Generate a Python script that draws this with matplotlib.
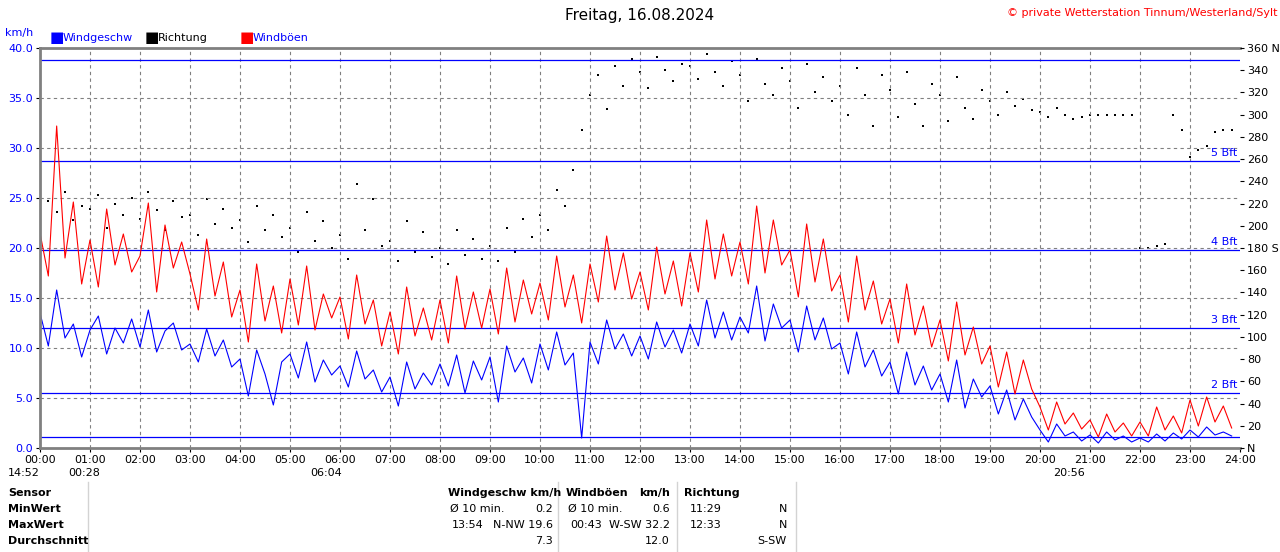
import numpy as np
import matplotlib.pyplot as plt

# 10-minute samples, 00:00 .. 23:50
wind = [
    13.5, 10.2, 15.8, 11.0, 12.4, 9.1,
    11.8, 13.2, 9.4, 12.0, 10.5, 12.9,
    10.1, 13.8, 9.6, 11.7, 12.5, 9.8,
    10.4, 8.6, 11.9, 9.2, 10.8, 8.1,
    8.9, 5.2, 9.8, 7.4, 4.3, 8.6,
    9.4, 7.0, 10.6, 6.6, 8.8, 7.3,
    8.2, 6.1, 9.7, 6.9, 7.8, 5.6,
    7.1, 4.2, 8.6, 5.9, 7.5, 6.3,
    8.4, 6.2, 9.3, 5.5, 8.7, 6.8,
    9.1, 4.6, 10.2, 7.6, 9.0, 6.5,
    10.4, 7.8, 11.6, 8.3, 9.5, 1.0,
    10.6, 8.4, 12.8, 9.9, 11.4, 9.2,
    11.2, 8.9, 12.6, 10.1, 11.8, 9.5,
    12.4, 10.2, 14.8, 11.0, 13.6, 10.8,
    13.1, 11.5, 16.2, 10.7, 14.4, 12.0,
    12.8, 9.6, 14.2, 10.8, 13.0, 9.9,
    10.5, 7.4, 11.6, 8.1, 9.8, 7.2,
    8.6, 5.4, 9.6, 6.3, 8.2, 5.8,
    7.4, 4.6, 8.8, 4.0, 6.9, 5.1,
    6.2, 3.4, 5.8, 2.8, 4.9, 3.1,
    1.8, 0.6, 2.4, 1.2, 1.6, 0.7,
    1.3, 0.5, 1.6, 0.8, 1.2, 0.6,
    1.0, 0.6, 1.4, 0.7, 1.5, 0.9,
    1.8, 1.1, 2.1, 1.3, 1.6, 1.2,
]
gust = [
    21.5, 17.2, 32.2, 19.0, 24.6, 16.4,
    20.8, 16.1, 23.9, 18.3, 21.4, 17.6,
    19.2, 24.5, 15.6, 22.3, 18.0, 20.6,
    17.4, 13.8, 20.9, 15.2, 18.6, 13.1,
    15.8, 10.6, 18.4, 12.7, 16.2, 11.5,
    16.9, 12.3, 18.2, 11.8, 15.4, 13.0,
    15.1, 10.9, 17.3, 12.4, 14.8, 10.2,
    13.6, 9.4, 16.1, 11.2, 14.0, 10.8,
    14.8, 10.5, 17.2, 11.9, 15.6, 12.0,
    15.9, 11.4, 18.0, 12.6, 16.8, 13.4,
    16.5, 12.8, 19.2, 14.1, 17.3, 12.5,
    18.4, 14.6, 21.2, 15.8, 19.5, 14.9,
    17.6, 13.8, 20.1, 15.4, 18.7, 14.2,
    19.5, 15.6, 22.8, 16.9, 21.4, 17.2,
    20.6, 16.4, 24.2, 17.5, 22.8, 18.3,
    19.8, 15.1, 22.4, 16.6, 20.9, 15.7,
    17.3, 12.6, 19.2, 13.8, 16.7, 12.4,
    14.9, 10.5, 16.4, 11.3, 14.2, 10.1,
    12.8, 8.7, 14.6, 9.3, 12.1, 8.4,
    10.2, 6.1, 9.6, 5.4, 8.8, 5.9,
    4.1, 1.8, 4.6, 2.4, 3.5, 1.9,
    2.8, 1.1, 3.4, 1.6, 2.5, 1.2,
    2.6, 1.2, 4.1, 1.8, 3.2, 1.5,
    4.8, 2.2, 5.1, 2.6, 4.2, 2.0,
]
direction = [
    200, 222, 212, 230, 205, 218,
    215, 228, 198, 220, 210, 225,
    206, 230, 214, 196, 222, 208,
    210, 192, 224, 202, 215, 198,
    205, 185, 218, 196, 210, 190,
    198, 176, 212, 186, 204, 180,
    192, 170, 238, 196, 224, 182,
    186, 168, 204, 176, 194, 172,
    180, 166, 196, 174, 188, 170,
    182, 168, 198, 176, 206, 190,
    210, 196, 232, 218, 250, 286,
    318, 336, 305, 344, 326, 350,
    338, 324, 352, 340, 330, 346,
    344, 332, 355, 338, 326, 348,
    336, 312, 350, 328, 318, 342,
    330, 306, 346, 320, 334, 312,
    326, 300, 342, 318, 290, 336,
    322, 298, 338, 310, 290, 328,
    318, 294, 334, 306, 296, 322,
    312, 300, 320, 308, 314, 304,
    302, 298, 306, 300, 296, 298,
    300, 300, 300, 300, 300, 300,
    180, 180, 182, 184, 300, 286,
    262, 268, 272, 284, 286, 286,
]
hours = np.arange(len(wind)) / 6
bft_lines = [1.1, 5.5, 12.0, 19.8, 28.7, 38.8]
bft_labels = ['', '2 Bft', '3 Bft', '4 Bft', '5 Bft', '']

fig = plt.figure(figsize=(12.8, 5.52), dpi=100)
ax = fig.add_axes([40 / 1280, 104 / 552, 1200 / 1280, 400 / 552])
ax.set_xlim(0, 24)
ax.set_ylim(0, 40)
for h in range(1, 24):
    ax.axvline(h, color='gray', ls=(0, (3, 3)), lw=0.8)
for v in range(5, 40, 5):
    ax.axhline(v, color='gray', ls=(0, (3, 3)), lw=0.8)
for v, lab in zip(bft_lines, bft_labels):
    ax.axhline(v, color='blue', lw=0.9)
    if lab:
        ax.text(23.95, v + 0.3, lab, color='blue', fontsize=8, ha='right', va='bottom')

ax.plot(hours, gust, color='red', lw=0.8)
ax.plot(hours, wind, color='blue', lw=0.8)
ax.scatter(hours, np.array(direction) / 9, s=3, color='black', marker='s', lw=0)

ax.set_xticks(range(25))
ax.set_xticklabels(['%02d:00' % h for h in range(25)], fontsize=8)
ax.set_yticks(np.arange(0, 41, 5))
ax.set_yticklabels(['%.1f' % v for v in np.arange(0, 41, 5)], fontsize=8, color='blue')
ax.tick_params(length=3, pad=2)
for s in ['top', 'left', 'bottom']:
    ax.spines[s].set_color('gray')
    ax.spines[s].set_linewidth(2)
ax.spines['right'].set_visible(False)

ax2 = ax.twinx()
ax2.set_ylim(0, 360)
dir_ticks = np.arange(0, 361, 20)
dir_labels = [('%d N' % d if d in (0, 360) else '%d S' % d if d == 180 else str(d)) for d in dir_ticks]
dir_labels[0] = 'N'
ax2.set_yticks(dir_ticks)
ax2.set_yticklabels(dir_labels, fontsize=8)
ax2.tick_params(length=3, pad=2)
for s in ax2.spines.values():
    s.set_visible(False)

fig.text(0.5, 0.985, 'Freitag, 16.08.2024', ha='center', va='top', fontsize=11)
fig.text(0.998, 0.985, '© private Wetterstation Tinnum/Westerland/Sylt', ha='right', va='top',
         fontsize=8, color='red')
fig.text(5 / 1280, 1 - 33 / 552, 'km/h', color='blue', fontsize=8, va='center')
legend = [('Windgeschw', 'blue', 'blue', 50), ('Richtung', 'black', 'black', 145), ('Windböen', 'red', 'blue', 240)]
for lab, c, tc, x in legend:
    fig.text(x / 1280, 1 - 38 / 552, '■', color=c, fontsize=11, va='center')
    fig.text((x + 13) / 1280, 1 - 38 / 552, lab, color=tc, fontsize=8, va='center')

fig.text(8 / 1280, 1 - 473 / 552, '14:52', fontsize=8, va='center')
fig.text(68 / 1280, 1 - 473 / 552, '00:28', fontsize=8, va='center')
fig.text(310 / 1280, 1 - 473 / 552, '06:04', fontsize=8, va='center')
fig.text(1053 / 1280, 1 - 473 / 552, '20:56', fontsize=8, va='center')

rows_y = [493, 509, 525, 541]
for lab, y in zip(['Sensor', 'MinWert', 'MaxWert', 'Durchschnitt'], rows_y):
    fig.text(8 / 1280, 1 - y / 552, lab, fontsize=8, fontweight='bold', va='center')
for x in [88, 558, 677, 796]:
    fig.add_artist(plt.Line2D([x / 1280] * 2, [1 - 482 / 552, 0], color='lightgray', lw=1))
cells = [
    (448, 493, 'Windgeschw km/h', 'left', 'bold'), (566, 493, 'Windböen', 'left', 'bold'),
    (670, 493, 'km/h', 'right', 'bold'), (684, 493, 'Richtung', 'left', 'bold'),
    (450, 509, 'Ø 10 min.', 'left', 'normal'), (553, 509, '0.2', 'right', 'normal'),
    (568, 509, 'Ø 10 min.', 'left', 'normal'), (670, 509, '0.6', 'right', 'normal'),
    (690, 509, '11:29', 'left', 'normal'), (787, 509, 'N', 'right', 'normal'),
    (468, 525, '13:54', 'center', 'normal'), (553, 525, 'N-NW 19.6', 'right', 'normal'),
    (586, 525, '00:43', 'center', 'normal'), (670, 525, 'W-SW 32.2', 'right', 'normal'),
    (690, 525, '12:33', 'left', 'normal'), (787, 525, 'N', 'right', 'normal'),
    (553, 541, '7.3', 'right', 'normal'), (670, 541, '12.0', 'right', 'normal'),
    (787, 541, 'S-SW', 'right', 'normal'),
]
for x, y, t, ha, w in cells:
    fig.text(x / 1280, 1 - y / 552, t, fontsize=8, ha=ha, va='center', fontweight=w)

fig.savefig('out.png', dpi=100)
